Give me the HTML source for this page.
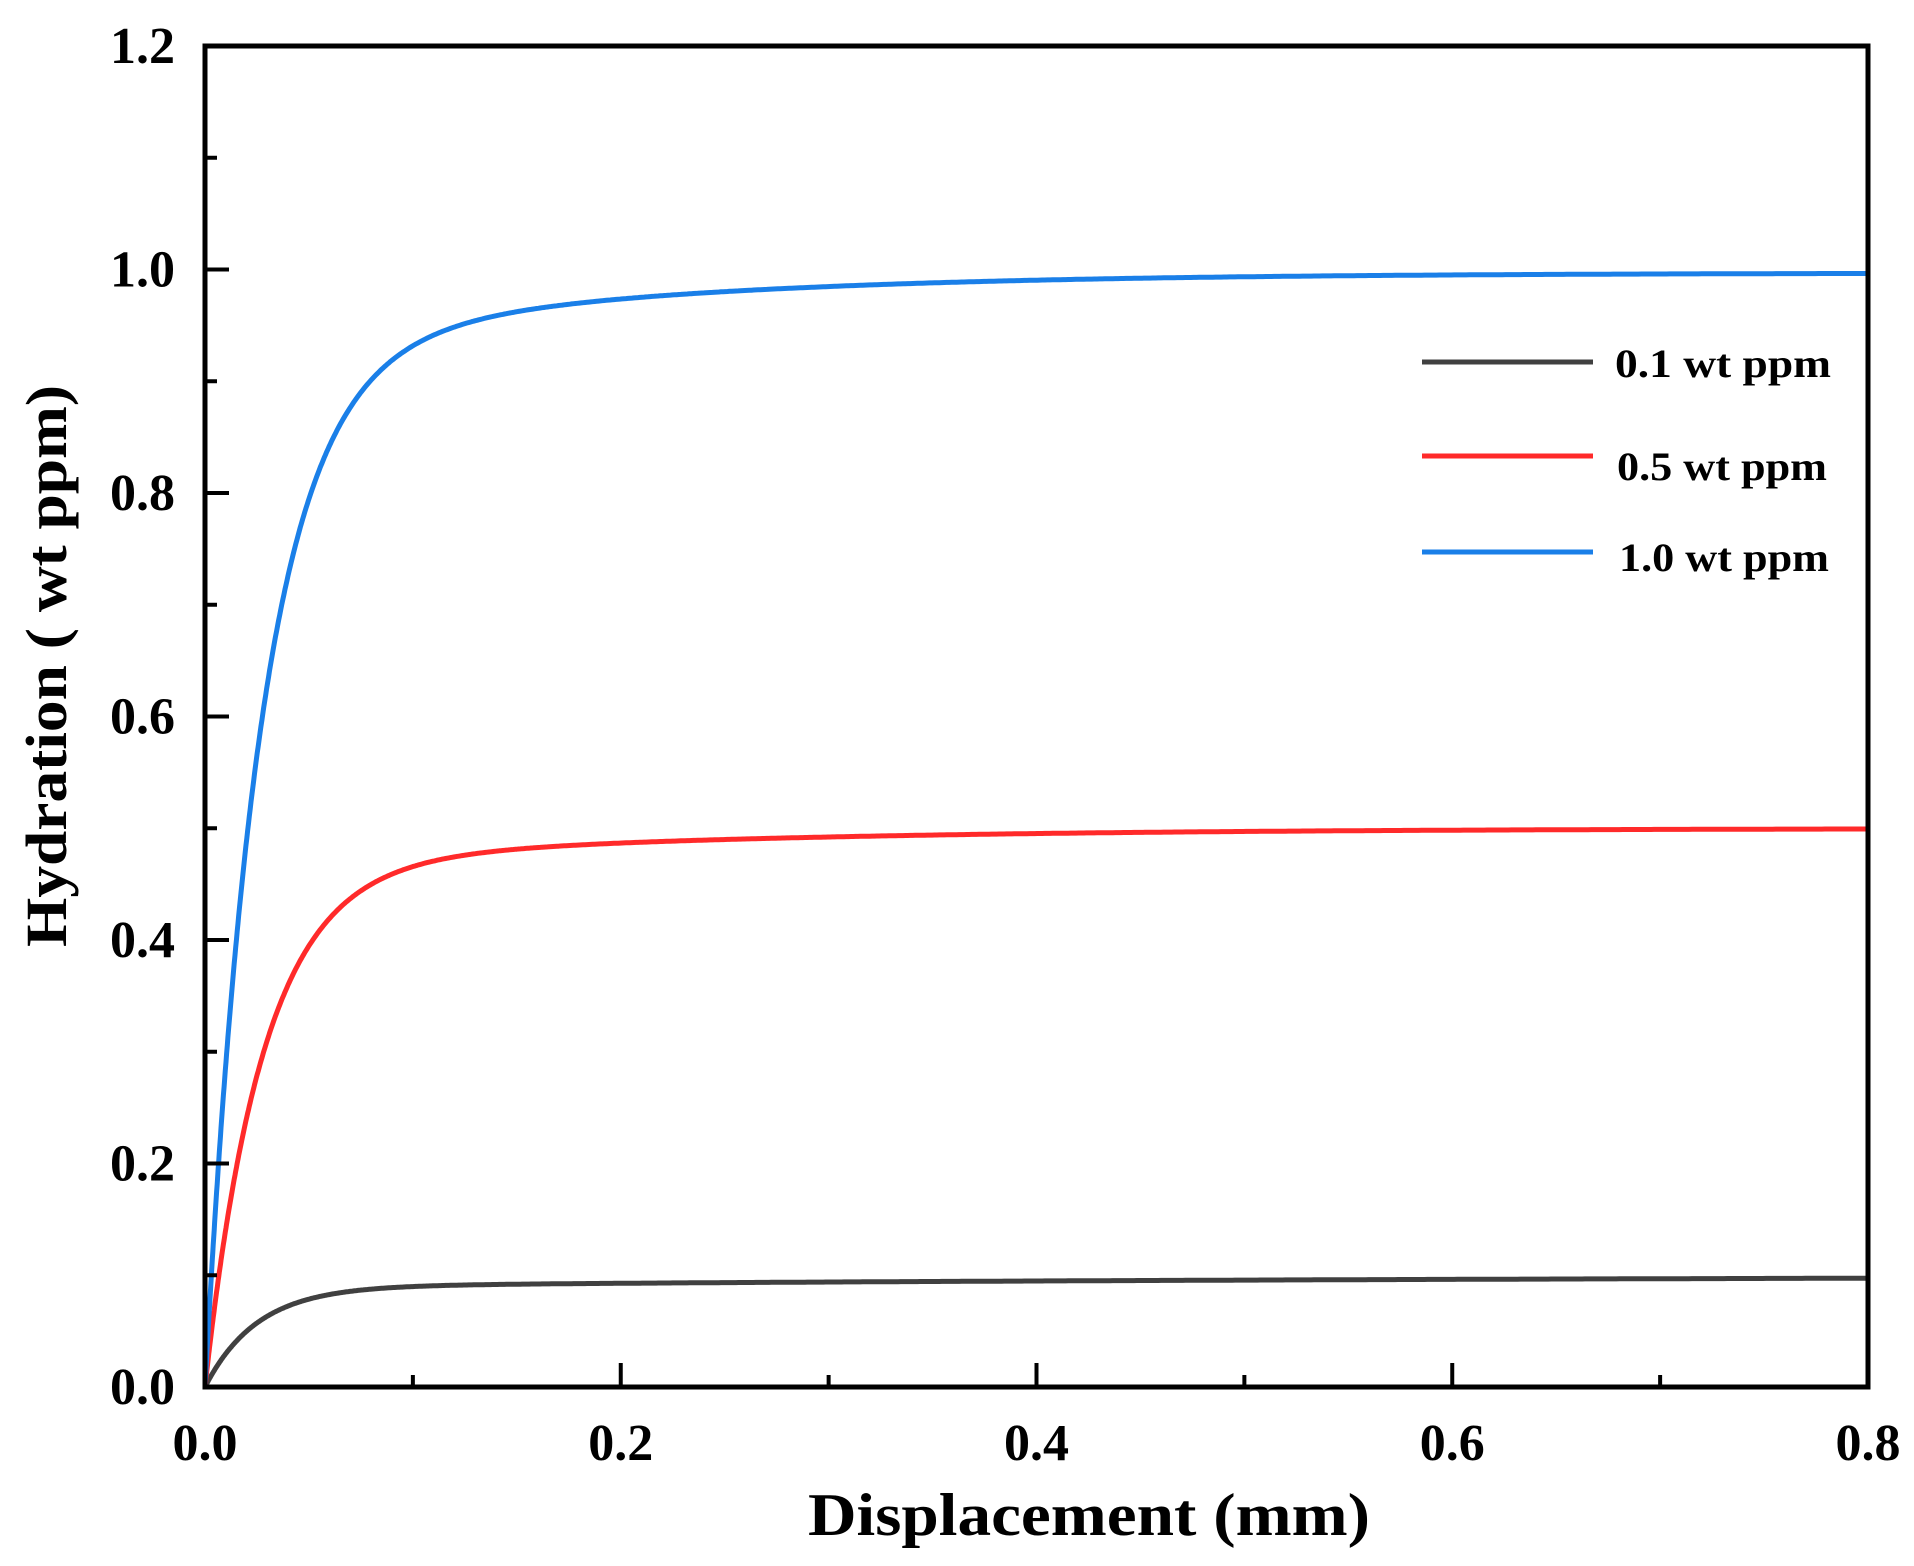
<!DOCTYPE html>
<html><head><meta charset="utf-8"><style>
html,body{margin:0;padding:0;background:#fff;}
svg{display:block;}
text{font-family:"Liberation Serif","Times New Roman",serif;font-weight:bold;fill:#000;}
</style></head><body>
<svg id="s" width="1914" height="1566" viewBox="0 0 1914 1566" xmlns="http://www.w3.org/2000/svg">
<g id="curves" fill="none" stroke-width="5" stroke-linejoin="round"></g>
<rect x="205" y="46" width="1663" height="1341" fill="none" stroke="#000" stroke-width="5"/>
<g id="ticks" stroke="#000" stroke-width="4"></g>
<g id="labels" font-size="52"></g>
<text x="1089" y="1535" font-size="60" text-anchor="middle" textLength="562" lengthAdjust="spacingAndGlyphs">Displacement (mm)</text>
<text transform="translate(66,666) rotate(-90)" font-size="58" text-anchor="middle" textLength="562" lengthAdjust="spacingAndGlyphs">Hydration ( wt ppm)</text>
<line x1="1422" y1="362" x2="1593" y2="362" stroke="#404040" stroke-width="5"/>
<line x1="1422" y1="456" x2="1593" y2="456" stroke="#ff2a2a" stroke-width="5"/>
<line x1="1422" y1="552" x2="1593" y2="552" stroke="#1a7fe8" stroke-width="5"/>
<text x="1615" y="377" font-size="40" textLength="216" lengthAdjust="spacingAndGlyphs">0.1 wt ppm</text>
<text x="1617" y="480" font-size="40" textLength="210" lengthAdjust="spacingAndGlyphs">0.5 wt ppm</text>
<text x="1619" y="571" font-size="40" textLength="210" lengthAdjust="spacingAndGlyphs">1.0 wt ppm</text>
</svg>
<script>
var X0=205,X1=1868,Y0=1387,Y1=46;
function px(x){return X0+(X1-X0)*x/0.8;}
function py(y){return Y0-(Y0-Y1)*y/1.2;}
var ns="http://www.w3.org/2000/svg";
function el(p,t,a){var e=document.createElementNS(ns,t);for(var k in a)e.setAttribute(k,a[k]);p.appendChild(e);return e;}
var T=document.getElementById("ticks"),L=document.getElementById("labels"),C=document.getElementById("curves");
for(var i=0;i<=12;i++){var y=py(i*0.1),maj=i%2==0;if(i>0&&i<12)el(T,"line",{x1:X0,y1:y,x2:X0+(maj?24:12),y2:y});
 if(maj){var t=el(L,"text",{x:175,y:y+17,"text-anchor":"end"});t.textContent=(i/10).toFixed(1);}}
for(var i=0;i<=8;i++){var x=px(i*0.1),maj=i%2==0;if(i>0&&i<8)el(T,"line",{x1:x,y1:Y0,x2:x,y2:Y0-(maj?24:12)});
 if(maj){var t=el(L,"text",{x:x,y:1460,"text-anchor":"middle"});t.textContent=(i/10).toFixed(1);}}
function curve(A,col,tau,f,tau2){var d="";for(var j=0;j<=800;j++){var x=0.8*Math.pow(j/800,1.6);
 var y=A*(1-(1-f)*Math.exp(-x/tau)-f*Math.exp(-x/tau2));d+=(j?"L":"M")+px(x).toFixed(1)+","+py(y).toFixed(1);}
 el(C,"path",{d:d,stroke:col});}
curve(0.1,"#404040",0.025,0.1,0.6);
curve(0.5,"#ff2a2a",0.028,0.07,0.2);
curve(0.997,"#1a7fe8",0.027,0.08,0.16);
</script>
</body></html>
